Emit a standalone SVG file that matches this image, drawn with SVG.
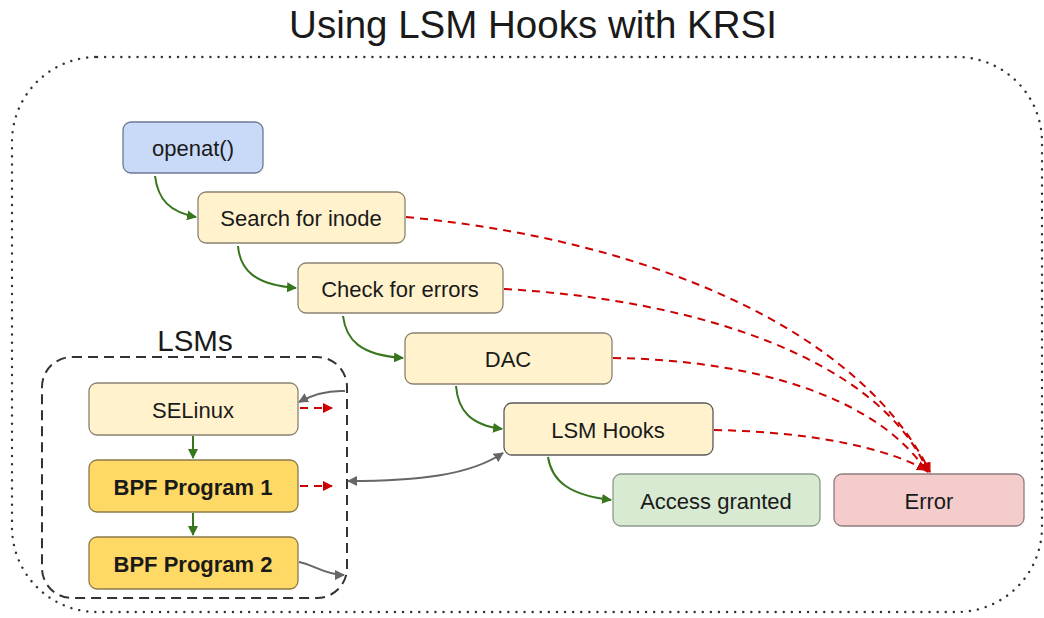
<svg xmlns="http://www.w3.org/2000/svg" width="1044" height="618" viewBox="0 0 1044 618">
<style>
text{font-family:"Liberation Sans",Arial,sans-serif;fill:#1a1a1a;text-anchor:middle;dominant-baseline:central}
.node rect{stroke-width:1.3}
.node text{font-size:22px}
.y rect{fill:#fff2cc;stroke:#8a8270}
.g{fill:none;stroke:#38761d;stroke-width:2}
.r{fill:none;stroke:#cc0000;stroke-width:2;stroke-dasharray:8,6}
.k{fill:none;stroke:#666;stroke-width:2}
</style>
<defs>
<marker id="ag" viewBox="0 0 10 10" refX="9" refY="5" markerWidth="5" markerHeight="5" orient="auto"><path d="M0,0L10,5L0,10z" fill="#38761d"/></marker>
<marker id="ar" viewBox="0 0 10 10" refX="9" refY="5" markerWidth="5" markerHeight="5" orient="auto"><path d="M0,0L10,5L0,10z" fill="#cc0000"/></marker>
<marker id="ak" viewBox="0 0 10 10" refX="9" refY="5" markerWidth="5" markerHeight="5" orient="auto-start-reverse"><path d="M0,0L10,5L0,10z" fill="#666"/></marker>
</defs>
<rect width="1044" height="618" fill="#fff"/>
<text x="533" y="24" style="font-size:38.5px">Using LSM Hooks with KRSI</text>
<rect x="12" y="57" width="1030" height="555" rx="85" fill="none" stroke="#333" stroke-width="2.4" stroke-dasharray="0.1,8" stroke-linecap="round"/>
<g id="lsms">
<rect x="42" y="357" width="305" height="241" rx="30" fill="none" stroke="#333" stroke-width="2" stroke-dasharray="10,6"/>
<text x="195" y="340" style="font-size:29.5px">LSMs</text>
</g>
<g id="connectors">
<path class="g" d="M155,176 C158,200 170,212 196,217" marker-end="url(#ag)"/>
<path class="g" d="M238,246 C240,270 255,285 296,288" marker-end="url(#ag)"/>
<path class="g" d="M343,316 C346,340 360,355 403,358" marker-end="url(#ag)"/>
<path class="g" d="M456,386 C458,410 470,425 502,429" marker-end="url(#ag)"/>
<path class="g" d="M548,457 C552,482 570,495 611,500" marker-end="url(#ag)"/>
<path class="g" d="M193,436 V458" marker-end="url(#ag)"/>
<path class="g" d="M193,513 V535" marker-end="url(#ag)"/>
<path class="r" d="M406,217 C650,240 860,330 930,472" marker-end="url(#ar)"/>
<path class="r" d="M504,289 C700,300 880,360 928,472" marker-end="url(#ar)"/>
<path class="r" d="M613,358 C760,360 880,400 927,472" marker-end="url(#ar)"/>
<path class="r" d="M714,430 C820,432 890,450 926,470" marker-end="url(#ar)"/>
<path class="r" d="M300,408 H332" marker-end="url(#ar)"/>
<path class="r" d="M300,486 H332" marker-end="url(#ar)"/>
<path class="k" d="M345,391 C325,390 310,396 299,402" marker-end="url(#ak)"/>
<path class="k" d="M299,562 C312,564 325,575 344,575" marker-end="url(#ak)"/>
<path class="k" d="M348,481 C420,481 470,475 503,453" marker-start="url(#ak)" marker-end="url(#ak)"/>
</g>
<g id="openat" class="node"><rect x="123" y="122" width="140" height="51" rx="8" fill="#c9daf8" stroke="#6d7891"/><text x="193" y="148">openat()</text></g>
<g id="search" class="node y"><rect x="198" y="192" width="207" height="51" rx="8"/><text x="301" y="218">Search for inode</text></g>
<g id="check" class="node y"><rect x="298" y="263" width="205" height="50" rx="8"/><text x="400" y="289">Check for errors</text></g>
<g id="dac" class="node y"><rect x="405" y="333" width="207" height="51" rx="8"/><text x="508" y="359">DAC</text></g>
<g id="lsmhooks" class="node"><rect x="504" y="403" width="209" height="52" rx="8" fill="#fff2cc" stroke="#595959" stroke-width="2.2"/><text x="608" y="430">LSM Hooks</text></g>
<g id="granted" class="node"><rect x="613" y="474" width="207" height="52" rx="8" fill="#d9ead3" stroke="#8a9a86"/><text x="716" y="501">Access granted</text></g>
<g id="error" class="node"><rect x="834" y="474" width="190" height="52" rx="8" fill="#f4cccc" stroke="#8f7c7c"/><text x="929" y="501">Error</text></g>
<g id="selinux" class="node y"><rect x="89" y="383" width="209" height="52" rx="8"/><text x="193" y="410">SELinux</text></g>
<g id="bpf1" class="node"><rect x="89" y="460" width="209" height="52" rx="8" fill="#ffd966" stroke="#8a7a4a"/><text x="193" y="487" style="font-weight:bold">BPF Program 1</text></g>
<g id="bpf2" class="node"><rect x="89" y="537" width="209" height="52" rx="8" fill="#ffd966" stroke="#8a7a4a"/><text x="193" y="564" style="font-weight:bold">BPF Program 2</text></g>
</svg>
